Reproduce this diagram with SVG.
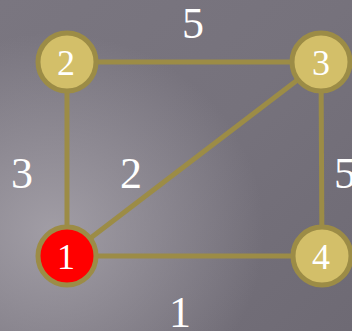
<svg xmlns="http://www.w3.org/2000/svg" width="352" height="331" viewBox="0 0 352 331">
<defs>
<linearGradient id="bg" x1="0" y1="0" x2="1" y2="1">
<stop offset="0" stop-color="#7a7680"/>
<stop offset="0.5" stop-color="#76727c"/>
<stop offset="1" stop-color="#6e6a74"/>
</linearGradient>
<radialGradient id="spot" cx="0.15" cy="0.7" r="0.6">
<stop offset="0" stop-color="#a6a2aa" stop-opacity="0.9"/>
<stop offset="1" stop-color="#a6a2aa" stop-opacity="0"/>
</radialGradient>
<style>
.edge{stroke:#9c8c46;stroke-width:5;fill:none}
.node circle{fill:#d3bf69;stroke:#9c8c46;stroke-width:5}
.node.start circle{fill:#ff0000}
text{font-family:"Liberation Serif","DejaVu Serif",serif;fill:#ffffff;text-anchor:middle}
.nl{font-size:36px}
.el{font-size:44px}
</style>
</defs>
<rect width="352" height="331" fill="url(#bg)"/>
<rect width="352" height="331" fill="url(#spot)"/>
<g id="connectors">
<line class="edge" x1="67" y1="62" x2="321" y2="62"/>
<line class="edge" x1="67" y1="62" x2="67" y2="256"/>
<line class="edge" x1="321" y1="62" x2="322" y2="256"/>
<line class="edge" x1="67" y1="256" x2="322" y2="256"/>
<line class="edge" x1="67" y1="256" x2="321" y2="62"/>
</g>
<g id="edge-labels">
<text class="el" x="193" y="38">5</text>
<text class="el" x="22" y="188">3</text>
<text class="el" x="131" y="188">2</text>
<text class="el" x="345" y="188">5</text>
<text class="el" x="180" y="327">1</text>
</g>
<g id="node-2" class="node"><circle cx="67" cy="62" r="29"/><text class="nl" x="66" y="75">2</text></g>
<g id="node-3" class="node"><circle cx="321" cy="62" r="29"/><text class="nl" x="321" y="75">3</text></g>
<g id="node-1" class="node start"><circle cx="67" cy="256" r="29"/><text class="nl" x="66" y="269">1</text></g>
<g id="node-4" class="node"><circle cx="322" cy="256" r="29"/><text class="nl" x="321" y="269">4</text></g>
</svg>
